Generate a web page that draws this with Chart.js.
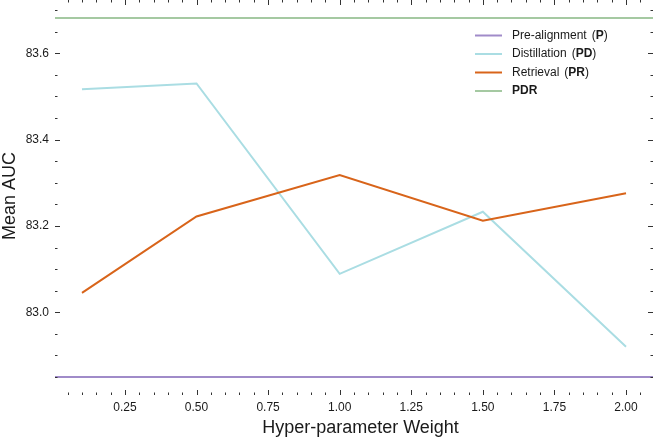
<!DOCTYPE html>
<html>
<head>
<meta charset="utf-8">
<script src="https://cdn.jsdelivr.net/npm/chart.js@4/dist/chart.umd.min.js"></script>
<style>
  body { margin: 0; background: #ffffff; }
  canvas { display: block; }
</style>
</head>
<body>
<canvas id="grafico" width="653" height="439"></canvas>
<script>
// valores
const weights = [0.1, 0.5, 1.0, 1.5, 2.0]
const distillation = [83.517, 83.530, 83.089, 83.233, 82.920]
const retrieval = [83.045, 83.222, 83.318, 83.212, 83.276]
const preAlignment = 82.850
const pdr = 83.682

// marcas dos eixos
const xTicks = [0.05, 0.10, 0.15, 0.20, 0.25, 0.30, 0.35, 0.40, 0.45, 0.50,
  0.55, 0.60, 0.65, 0.70, 0.75, 0.80, 0.85, 0.90, 0.95, 1.00,
  1.05, 1.10, 1.15, 1.20, 1.25, 1.30, 1.35, 1.40, 1.45, 1.50,
  1.55, 1.60, 1.65, 1.70, 1.75, 1.80, 1.85, 1.90, 1.95, 2.00, 2.05]
const xLabels = [0.25, 0.50, 0.75, 1.00, 1.25, 1.50, 1.75, 2.00]
const yTicks = [82.85, 82.90, 82.95, 83.00, 83.05, 83.10, 83.15, 83.20, 83.25,
  83.30, 83.35, 83.40, 83.45, 83.50, 83.55, 83.60, 83.65, 83.70]
const yLabels = [83.0, 83.2, 83.4, 83.6]

const legendItems = [
  { name: 'Pre-alignment', bold: 'P', color: '#a08bc9' },
  { name: 'Distillation', bold: 'PD', color: '#aadde3' },
  { name: 'Retrieval', bold: 'PR', color: '#d8641a' },
  { name: '', bold: 'PDR', color: '#a5c9a2' },
]

const xMin = 0.0058
const xMax = 2.0942
const yMin = 82.8084
const yMax = 83.7235

const fonte = '"Liberation Sans", Arial, sans-serif'
const isLabel = (v, list) => list.some(l => Math.abs(l - v) < 1e-6)

//desenha as marcas nos quatro lados
const marcas = {
  id: 'marcas',
  afterDraw(chart) {
    const { ctx, chartArea: a, scales: { x, y } } = chart
    ctx.save()
    ctx.strokeStyle = '#333333'
    ctx.lineWidth = 1
    ctx.beginPath()
    xTicks.forEach(v => {
      const px = Math.round(x.getPixelForValue(v)) + 0.5
      const len = isLabel(v, xLabels) ? 5 : 2.5
      ctx.moveTo(px, a.top)
      ctx.lineTo(px, a.top + len)
      ctx.moveTo(px, a.bottom)
      ctx.lineTo(px, a.bottom - len)
    })
    yTicks.forEach(v => {
      const py = Math.round(y.getPixelForValue(v)) + 0.5
      const len = isLabel(v, yLabels) ? 5 : 2.5
      ctx.moveTo(a.left, py)
      ctx.lineTo(a.left + len, py)
      ctx.moveTo(a.right, py)
      ctx.lineTo(a.right - len, py)
    })
    ctx.stroke()
    ctx.restore()
  }
}

//legenda com parte em negrito
const legenda = {
  id: 'legenda',
  afterDraw(chart) {
    const ctx = chart.ctx
    ctx.save()
    ctx.textBaseline = 'middle'
    legendItems.forEach((item, i) => {
      const ly = 35.5 + i * 18.5
      ctx.strokeStyle = item.color
      ctx.lineWidth = 2
      ctx.beginPath()
      ctx.moveTo(475, ly)
      ctx.lineTo(502, ly)
      ctx.stroke()
      ctx.fillStyle = '#1a1a1a'
      let tx = 512
      if (item.bold === 'PDR') {
        ctx.font = 'bold 12px ' + fonte
        ctx.fillText('PDR', tx, ly)
        return
      }
      ctx.font = '12px ' + fonte
      ctx.fillText(item.name, tx, ly)
      tx += ctx.measureText(item.name).width + 5
      ctx.fillText('(', tx, ly)
      tx += ctx.measureText('(').width
      ctx.font = 'bold 12px ' + fonte
      ctx.fillText(item.bold, tx, ly)
      tx += ctx.measureText(item.bold).width
      ctx.font = '12px ' + fonte
      ctx.fillText(')', tx, ly)
    })
    ctx.restore()
  }
}

//titulos dos eixos
const titulos = {
  id: 'titulos',
  afterDraw(chart) {
    const ctx = chart.ctx
    ctx.save()
    ctx.fillStyle = '#1a1a1a'
    ctx.font = '18px ' + fonte
    ctx.textAlign = 'center'
    ctx.textBaseline = 'alphabetic'
    ctx.fillText('Hyper-parameter Weight', 360.5, 433)
    ctx.translate(15, 196)
    ctx.rotate(-Math.PI / 2)
    ctx.fillText('Mean AUC', 0, 0)
    ctx.restore()
  }
}

const data = {
  datasets: [
    {
      label: 'Retrieval (PR)',
      data: weights.map((w, i) => ({ x: w, y: retrieval[i] })),
      borderColor: legendItems[2].color,
      borderWidth: 2,
      order: 1
    },
    {
      label: 'Distillation (PD)',
      data: weights.map((w, i) => ({ x: w, y: distillation[i] })),
      borderColor: legendItems[1].color,
      borderWidth: 2,
      order: 2
    },
    {
      label: 'Pre-alignment (P)',
      data: [{ x: xMin, y: preAlignment }, { x: xMax, y: preAlignment }],
      borderColor: legendItems[0].color,
      borderWidth: 2,
      order: 3
    },
    {
      label: 'PDR',
      data: [{ x: xMin, y: pdr }, { x: xMax, y: pdr }],
      borderColor: legendItems[3].color,
      borderWidth: 2,
      order: 4
    },
  ]
}

const maps = new Chart(document.getElementById('grafico'), {
  type: 'line',
  data: data,
  plugins: [marcas, legenda, titulos],
  options: {
    responsive: false,
    animation: false,
    events: [],
    elements: {
      point: { radius: 0 },
      line: { tension: 0, borderCapStyle: 'butt' }
    },
    layout: { padding: 0 },
    plugins: {
      legend: { display: false },
      tooltip: { enabled: false }
    },
    scales: {
      x: {
        type: 'linear',
        min: xMin,
        max: xMax,
        afterBuildTicks: scale => { scale.ticks = xTicks.map(v => ({ value: v })) },
        afterFit: scale => {
          scale.height = 44
          scale.paddingLeft = 0
          scale.paddingRight = 0
        },
        grid: { display: false, drawTicks: false },
        border: { display: false },
        ticks: {
          autoSkip: false,
          maxRotation: 0,
          padding: 5,
          color: '#1a1a1a',
          font: { family: fonte, size: 12 },
          callback: v => isLabel(v, xLabels) ? v.toFixed(2) : ''
        }
      },
      y: {
        min: yMin,
        max: yMax,
        afterBuildTicks: scale => { scale.ticks = yTicks.map(v => ({ value: v })) },
        afterFit: scale => {
          scale.width = 55
          scale.paddingTop = 0
          scale.paddingBottom = 0
        },
        grid: { display: false, drawTicks: false },
        border: { display: false },
        ticks: {
          autoSkip: false,
          padding: 6,
          color: '#1a1a1a',
          font: { family: fonte, size: 12 },
          callback: v => isLabel(v, yLabels) ? v.toFixed(1) : ''
        }
      }
    }
  }
})
</script>
</body>
</html>
